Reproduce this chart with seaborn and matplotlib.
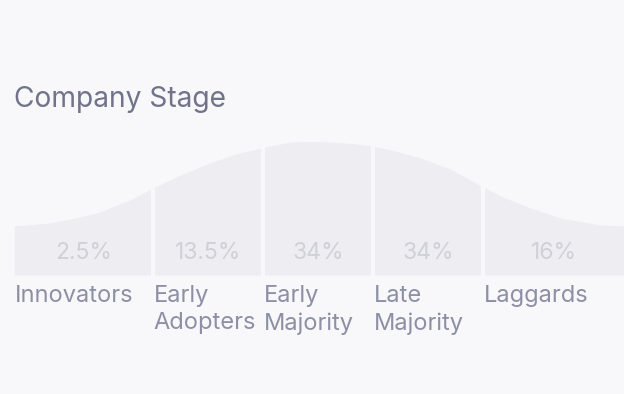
import numpy as np
import seaborn as sns
import matplotlib.pyplot as plt

# etapy adopcji i udzialy
stages = ["Innovators", "Early\nAdopters", "Early\nMajority", "Late\nMajority", "Laggards"]
shares = ["2.5%", "13.5%", "34%", "34%", "16%"]
# granice segmentow (w odchyleniach standardowych)
edges = [-3.26, -2.0, -1.0, 0.0, 1.0, 2.28]

# krzywa dzwonowa (x w sigma, wysokosc)
curve_x = [-3.26, -2.94, -2.7, -2.48, -2.21, -2.0, -1.75, -1.48, -1.25, -1.0, -0.75,
           -0.55, -0.39, -0.2, 0.0, 0.2, 0.43, 0.7, 1.0, 1.2, 1.43, 1.7, 2.06, 2.28]
curve_y = [49, 52, 57, 63, 75, 87, 100, 112, 121, 127.5, 133,
           133.5, 133, 131.5, 129, 124, 117, 106, 88, 77, 67, 57, 50, 49]

bg = "#f8f8fa"
fill = "#ededf2"

sns.set_theme(style="white", rc={"figure.facecolor": bg, "axes.facecolor": bg})
plt.rcParams["font.family"] = ["Inter", "DejaVu Sans"]

fig = plt.figure(figsize=(6.24, 3.94), dpi=100)
ax = fig.add_axes([0, 0, 1, 1])
ax.set_xlim(-3.39, 2.28)
ax.set_ylim(-119, 275)
ax.axis("off")

ax.fill_between(curve_x, 0, curve_y, color=fill, linewidth=0)
for e in edges[1:-1]:
    ax.axvline(e, color=bg, linewidth=2.9)

for i, (name, pct) in enumerate(zip(stages, shares)):
    left, right = edges[i], edges[i + 1]
    ax.text((left + right) / 2, 22, pct, ha="center", va="center",
            fontsize=16.5, color="#d0d0d8")
    ax.text(left + 0.005, -10, name, ha="left", va="top", fontsize=17,
            color="#8d8fa5", linespacing=1.3)

ax.text(-3.26, 176, "Company Stage", ha="left", va="center", fontsize=20.3, color="#71738a")

fig.savefig("out.png", dpi=100, facecolor=bg)
